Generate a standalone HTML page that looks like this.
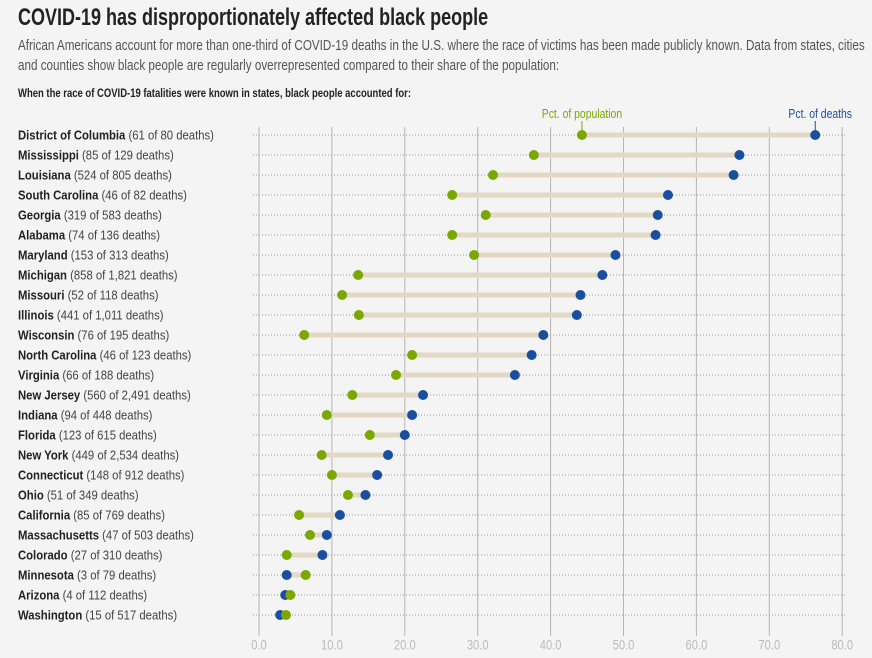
<!DOCTYPE html>
<html><head><meta charset="utf-8">
<style>
body{margin:0;background:#f4f4f4;width:872px;height:658px;overflow:hidden;font-family:"Liberation Sans",sans-serif;color:#222}
.sq{position:absolute;left:18px;transform-origin:0 0;white-space:nowrap}
#title{top:4px;font-size:24px;font-weight:bold;transform:scaleX(0.75);color:#222}
#sub{top:36px;font-size:14.5px;line-height:20px;color:#555;transform:scaleX(0.805)}
#lead{top:86px;font-size:12px;font-weight:bold;color:#222;transform:scaleX(0.79)}
svg{position:absolute;left:0;top:0}
</style></head><body>
<div id="title" class="sq">COVID-19 has disproportionately affected black people</div>
<div id="sub" class="sq">African Americans account for more than one-third of COVID-19 deaths in the U.S. where the race of victims has been made publicly known. Data from states, cities<br>and counties show black people are regularly overrepresented compared to their share of the population:</div>
<div id="lead" class="sq">When the race of COVID-19 fatalities were known in states, black people accounted for:</div>
<svg id="chart" width="872" height="658"></svg>
<script>
const states=["District of Columbia","Mississippi","Louisiana","South Carolina","Georgia","Alabama","Maryland","Michigan","Missouri","Illinois","Wisconsin","North Carolina","Virginia","New Jersey","Indiana","Florida","New York","Connecticut","Ohio","California","Massachusetts","Colorado","Minnesota","Arizona","Washington"];
const blackDeaths=[61,85,524,46,319,74,153,858,52,441,76,46,66,560,94,123,449,148,51,85,47,27,3,4,15];
const totalDeaths=[80,129,805,82,583,136,313,1821,118,1011,195,123,188,2491,448,615,2534,912,349,769,503,310,79,112,517];
const pctPopulation=[44.3,37.7,32.1,26.5,31.1,26.5,29.5,13.6,11.4,13.7,6.2,21.0,18.8,12.8,9.3,15.2,8.6,10.0,12.2,5.5,7.0,3.8,6.4,4.3,3.7];
const pctDeaths=[76.3,65.9,65.1,56.1,54.7,54.4,48.9,47.1,44.1,43.6,39.0,37.4,35.1,22.5,21.0,20.0,17.7,16.2,14.6,11.1,9.3,8.7,3.8,3.6,2.9];
const ticks=[0,10,20,30,40,50,60,70,80];
const NS="http://www.w3.org/2000/svg";
const svg=document.getElementById('chart');
const x=v=>259+v*7.29;
const y=i=>135+i*20;
const SX=0.8;
function mk(t,a,p){const e=document.createElementNS(NS,t);for(const k in a)e.setAttribute(k,a[k]);(p||svg).appendChild(e);return e;}
function sq(px,py,k){return mk('g',{transform:'translate('+px+','+py+') scale('+k+',1)'});}
ticks.forEach(t=>{
  const l=mk('line',{x1:x(t),x2:x(t),y1:127,y2:636,stroke:'#b5b5b5','stroke-width':1});
  
  
  const g=sq(x(t),640,SX);
  const tx=mk('text',{x:0,y:0,'text-anchor':'middle','font-size':14,fill:'#bbb','dominant-baseline':'hanging'},g);
  tx.textContent=t.toFixed(1);
  
  
});
states.forEach((s,i)=>{
  const g=mk('line',{x1:253,x2:846,y1:y(i),y2:y(i),stroke:'#999','stroke-width':1,'stroke-dasharray':'1,2'});
  
  
  const lg=sq(18,y(i)+4.5,0.905);
  const lab=mk('text',{x:0,y:0,'font-size':12.5,fill:'#222'},lg);
  const b=mk('tspan',{'font-weight':'bold'},lab);b.textContent=s;
  const r=mk('tspan',{fill:'#444'},lab);r.textContent=' ('+blackDeaths[i].toLocaleString('en-US')+' of '+totalDeaths[i].toLocaleString('en-US')+' deaths)';
  
  
  const bar=mk('line',{x1:x(pctPopulation[i]),x2:x(pctDeaths[i]),y1:y(i),y2:y(i),stroke:'#e2d8c4','stroke-width':5});
  
  
  const d=mk('circle',{cx:x(pctDeaths[i]),cy:y(i),r:5,fill:'#1a4fa0'});
  
  
  const p=mk('circle',{cx:x(pctPopulation[i]),cy:y(i),r:5,fill:'#7aa800'});
  
  
});
const gp=sq(x(pctPopulation[0]),118,SX);
const lp=mk('text',{x:0,y:0,'text-anchor':'middle','font-size':13,fill:'#7aa800'},gp);
lp.textContent='Pct. of population';


mk('line',{x1:x(pctPopulation[0]),x2:x(pctPopulation[0]),y1:121,y2:130,stroke:'#7aa800'});
const gd=sq(852,118,SX);
const ld=mk('text',{x:0,y:0,'text-anchor':'end','font-size':13,fill:'#1a4fa0'},gd);
ld.textContent='Pct. of deaths';


mk('line',{x1:x(pctDeaths[0]),x2:x(pctDeaths[0]),y1:121,y2:130,stroke:'#1a4fa0'});
</script>
</body></html>
